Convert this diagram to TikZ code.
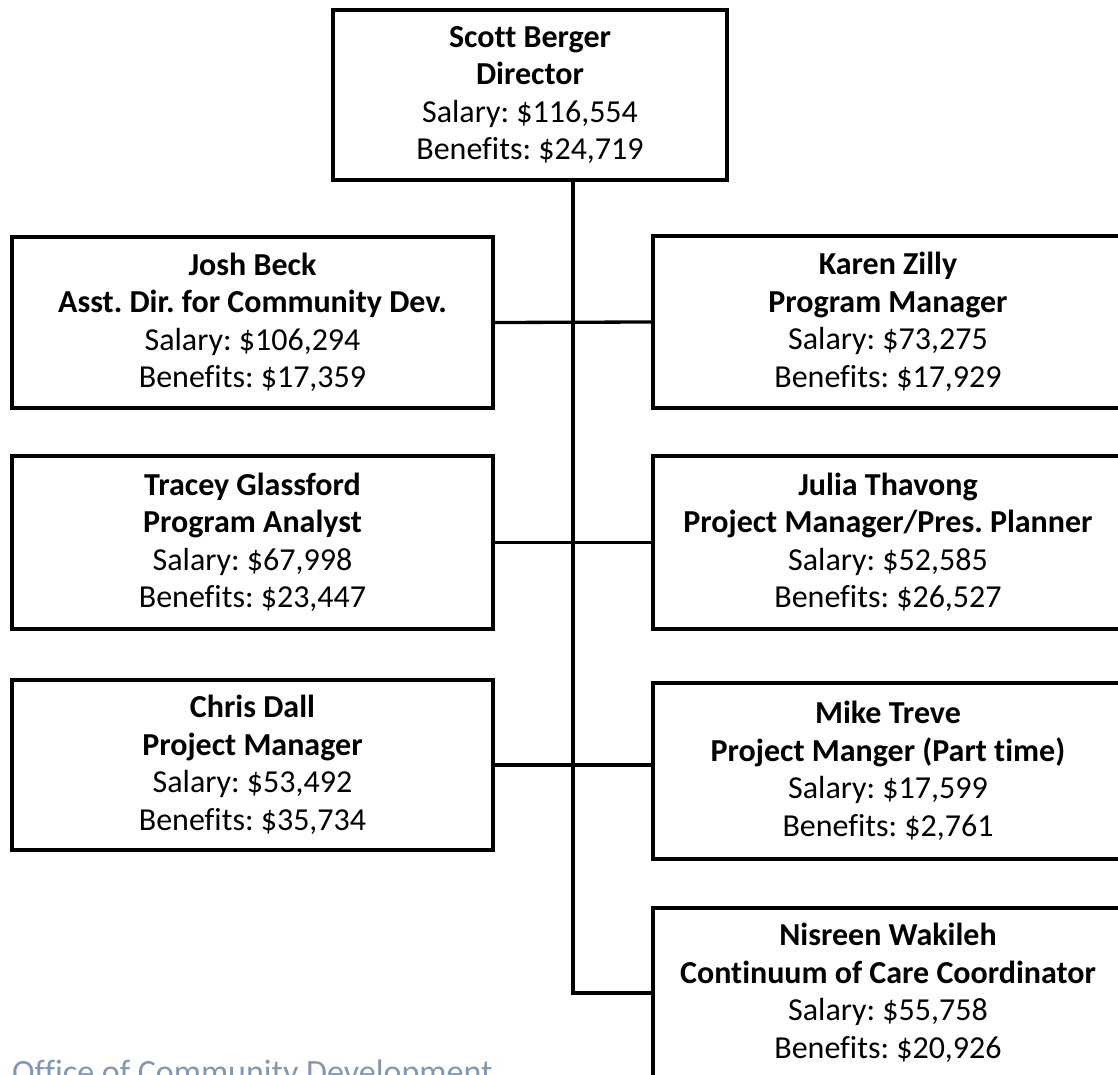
\documentclass[tikz,border=0pt]{standalone}
\usepackage{fontspec}
\setmainfont{Carlito}[Ligatures={NoCommon}]
\frenchspacing
\definecolor{footblue}{RGB}{132,151,176}
\tikzset{
  person/.style={draw=black, line width=3.5pt, fill=white, rectangle, inner sep=0pt,
    align=center, font=\fontsize{32}{37.5}\selectfont},
  link/.style={draw=black, line width=3.3pt},
}
\begin{document}
\begin{tikzpicture}[x=1pt,y=-1pt]
\useasboundingbox (0,0) rectangle (1118,1075);
\clip (0,0) rectangle (1118,1075);
\coordinate (tt) at (573,180);
% nodes
\node[person, minimum width=394pt, minimum height=170pt] (top) at (530,95)
  {\textbf{Scott Berger}\\\textbf{Director}\\Salary: \$116,554\\Benefits: \$24,719};
\node[person, minimum width=481pt, minimum height=171pt] (josh) at (252.5,322.5)
  {\textbf{Josh Beck}\\\textbf{Asst. Dir. for Community Dev.}\\Salary: \$106,294\\Benefits: \$17,359};
\node[person, minimum width=470pt, minimum height=172pt] (karen) at (888,322)
  {\textbf{Karen Zilly}\\\textbf{Program Manager}\\Salary: \$73,275\\Benefits: \$17,929};
\node[person, minimum width=481pt, minimum height=173pt] (tracey) at (252.5,542.5)
  {\textbf{Tracey Glassford}\\\textbf{Program Analyst}\\Salary: \$67,998\\Benefits: \$23,447};
\node[person, minimum width=470pt, minimum height=173pt] (julia) at (888,542.5)
  {\textbf{Julia Thavong}\\\textbf{Project Manager/Pres. Planner}\\Salary: \$52,585\\Benefits: \$26,527};
\node[person, minimum width=481pt, minimum height=170pt] (chris) at (252.5,765)
  {\textbf{Chris Dall}\\\textbf{Project Manager}\\Salary: \$53,492\\Benefits: \$35,734};
\node[person, minimum width=470pt, minimum height=176pt] (mike) at (888,771)
  {\textbf{Mike Treve}\\\textbf{Project Manger (Part time)}\\Salary: \$17,599\\Benefits: \$2,761};
\node[person, minimum width=470pt, minimum height=170pt] (nis) at (888,993)
  {\textbf{Nisreen Wakileh}\\\textbf{Continuum of Care Coordinator}\\Salary: \$55,758\\Benefits: \$20,926};
% connectors
\draw[link] (top.south -| tt) -- (tt |- nis.west) -- (nis.west);
\draw[link] (josh.east) -- (karen.west);
\draw[link] (tracey.east) -- (julia.west);
\draw[link] (chris.east) -- (chris.east -| mike.west);
% footer
\node[anchor=base west, inner sep=0pt, text=footblue, font=\fontsize{34}{40}\selectfont] (foot) at (12,1083)
  {Office of Community Development};
\end{tikzpicture}
\end{document}
